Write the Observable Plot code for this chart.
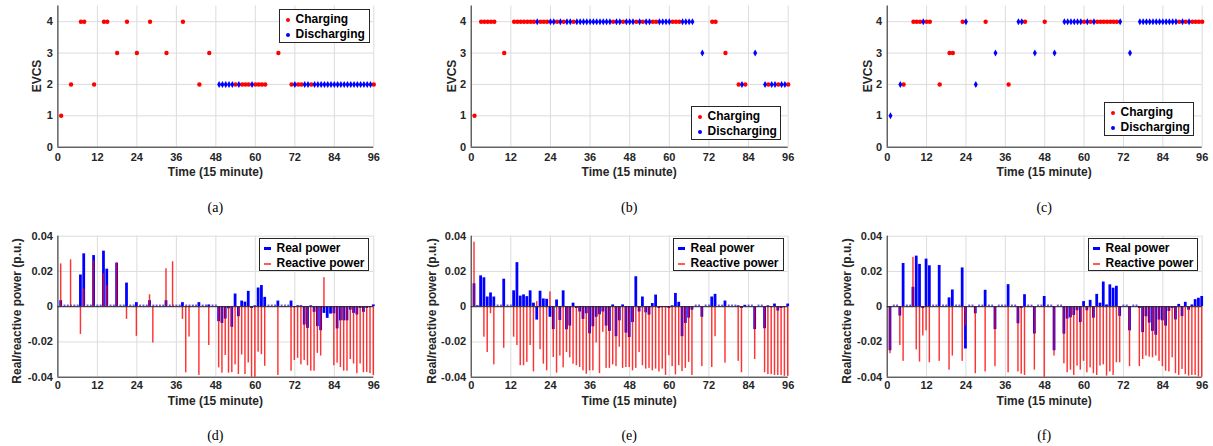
<!DOCTYPE html>
<html><head><meta charset="utf-8">
<script src="https://cdn.jsdelivr.net/npm/d3@7"></script>
<script src="https://cdn.jsdelivr.net/npm/@observablehq/plot@0.6"></script>
<style>
body{margin:0;background:#fff;}
#root{position:relative;width:1213px;height:446px;overflow:hidden;font-family:"Liberation Sans",Arial,Helvetica,sans-serif;}
.pw{position:absolute;}
.lab{position:absolute;font-weight:bold;font-size:12px;color:#262626;white-space:nowrap;line-height:1;}
.ylab{transform:translate(-50%,-50%) rotate(-90deg);}
.xlab{transform:translate(-50%,-50%);}
.cap{position:absolute;font-family:"Liberation Serif","Times New Roman",serif;font-size:14px;color:#000;transform:translate(-50%,-50%);line-height:1;}
.leg{position:absolute;border:1px solid #262626;background:#fff;box-sizing:border-box;font-weight:bold;font-size:12px;color:#000;}
.lt{position:absolute;white-space:nowrap;line-height:12px;height:12px;}
.mk{position:absolute;}
</style></head>
<body><div id="root"></div>
<script>
// ---------- data ----------
const timeTicks = [0,12,24,36,48,60,72,84,96];
const evcsTicks = [0,1,2,3,4];
const powerTicks = [-0.04,-0.02,0,0.02,0.04];

// EVCS index connected at each 15-minute slot (0 = none) and mode (c = charging, d = discharging)
const evcsA = [1,0,0,2,0,0,4,4,0,0, 2,0,0,4,4,0,0,3,0,0, 4,0,0,3,0,0,0,4,0,0, 0,0,3,0,0,0,0,4,0,0,
               0,0,2,0,0,3,0,0,2,2, 2,2,2,2,2,2,2,2,2,2, 2,2,2,0,0,0,3,0,0,0, 2,2,2,2,2,2,2,2,2,2,
               2,2,2,2,2,2,2,2,2,2, 2,2,2,2,2,2];
const modeA = "c--c--cc--" + "c--cc--c--" + "c--c---c--" + "--c----c--" + "--c--c--dd" +
              "dddcdcccdc" + "ccc---c---" + "cdccddcddd" + "dddddddddd" + "dddddc";

const evcsB = [1,0,4,4,4,4,4,0,0,3, 0,0,4,4,4,4,4,4,4,4, 4,4,4,4,4,4,4,4,4,4, 4,4,4,4,4,4,4,4,4,4,
               4,4,4,4,4,4,4,4,4,4, 4,4,4,4,4,4,4,4,4,4, 4,4,4,4,4,4,4,0,0,3, 0,0,4,4,0,0,3,0,0,0,
               2,2,2,0,0,3,0,0,2,2, 2,2,2,2,2,2];
const modeB = "c-ccccc--c" + "--cccccccd" + "cccddcdcdd" + "cddddddddd" + "ddcddcdddc" +
              "dcddccdddd" + "cccdddd--d" + "--cc--c---" + "cdc--d--dc" + "ddcddc";

const evcsC = [1,0,0,2,2,0,0,4,4,4, 4,4,4,0,0,2,0,0,3,3, 0,0,4,4,0,0,2,0,0,4, 0,0,3,0,0,0,2,0,0,4,
               4,4,0,0,3,0,0,4,0,0, 3,0,0,4,4,4,4,4,4,4, 4,4,4,4,4,4,4,4,4,4, 4,0,0,3,0,0,4,4,4,4,
               4,4,4,4,4,4,4,4,4,4, 4,4,4,4,4,4];
const modeC = "d--dc--ccc" + "dcc--c--cc" + "--cd--d--c" + "--d---c--d" + "dc--d--c--" +
              "d--ddddddc" + "dcdccccccc" + "d--d--dddd" + "ddddddddcd" + "cdcccc";

// real / reactive power (p.u.) for slots 1..96
const realD = [0.0034,0,0,0,0,0,0.018,0.030,0,0, 0.029,0,0,0.0315,0.0213,0,0,0.0247,0,0,
               0.0134,0,0,0.0023,0,0,0,0.0034,0,0, 0,0,0.0034,0,0,0,0,0.0023,0,0,
               0,0,0.0023,0,0,0.001,0,0,-0.0085,-0.0095, -0.007,-0.0012,-0.0117,0.0072,-0.0057,0.0032,0.0026,0.0087,-0.001,0.0005,
               0.0106,0.012,0.0053,0,0,0,0.0032,0,0,0, 0.0032,-0.0005,0.0005,0.0005,-0.0104,-0.0123,0.0005,-0.0032,-0.0113,-0.0136,
               -0.0038,-0.0066,-0.0042,-0.004,-0.0126,-0.008,-0.008,-0.008,-0.002,-0.0038, -0.0047,-0.001,-0.0032,-0.001,-0.0005,0.001];
const reactD = [0.0243,0,0,0.0266,0,0,-0.0157,0.010,0,0, 0.026,0,0,0.0187,0.012,0,0,0.0249,0,0,
                -0.0072,0,0,-0.0168,0,0,0,0.0068,-0.0206,0, 0,0,0.0215,0,0.0255,0,0,-0.0072,-0.0375,-0.0172,
                0,0,-0.039,0,0,-0.022,0,0,-0.0347,-0.0377, -0.0277,-0.0377,-0.0374,-0.033,-0.0385,-0.0274,-0.0385,-0.0319,-0.04,-0.04,
                -0.0258,-0.0272,-0.0338,0,0,0,-0.039,0,0,0, -0.0366,-0.0305,-0.0293,-0.033,-0.0305,-0.0335,-0.0366,-0.0366,-0.0265,-0.028,
                0.0165,0,0,-0.0335,-0.032,-0.0345,-0.0366,-0.0366,-0.030,-0.0325, -0.038,-0.0325,-0.0375,-0.0373,-0.038,-0.039];

const realE = [0.013,0.0005,0.0175,0.0164,0.0055,0.0078,0.0055,0,0,0.0156, 0,0,0.009,0.025,0.006,0.0067,0.0057,0.009,0.002,-0.0076,
               0.0088,0.0044,0.0042,-0.006,-0.013,0.0038,-0.0078,0.009,-0.0131,-0.011, 0.002,-0.001,-0.003,-0.0072,-0.004,-0.0154,-0.0114,-0.006,-0.0046,-0.003,
               -0.011,-0.014,0.001,-0.017,-0.008,0.001,-0.015,-0.0175,-0.009,0.017, -0.003,0.0055,-0.0035,-0.0048,0.0018,0.0066,-0.001,-0.0005,-0.0005,-0.001,
               0.0005,0.0075,0.0025,-0.017,-0.0095,-0.0065,-0.002,0,0,-0.006, 0,0,0.0055,0.007,0,0,0.0032,0,0,0,
               0.0005,-0.001,0.0008,0,0,-0.013,0,0,-0.0125,0.0005, -0.0005,0.0015,-0.0025,-0.001,-0.0005,0.0015];
const reactE = [0.0366,0,0,-0.0173,-0.026,-0.004,-0.033,0,0,-0.0236, 0,0,-0.0173,-0.022,-0.0335,-0.0335,-0.0316,-0.022,-0.037,0.0029,
                -0.0244,-0.0326,-0.0364,0.0084,-0.0288,-0.0377,-0.028,-0.0347,-0.026,-0.029, -0.0326,-0.0335,-0.0345,-0.0364,-0.0383,-0.0364,-0.0364,-0.0206,-0.038,-0.0145,
                -0.035,-0.035,-0.033,-0.034,-0.023,-0.035,-0.0345,-0.0345,-0.0364,-0.035, -0.026,-0.0335,-0.0354,-0.035,-0.0364,-0.0354,-0.037,-0.0354,-0.039,-0.0278,
                -0.034,-0.0387,-0.0335,-0.0368,-0.035,-0.0316,-0.039,0,0,-0.034, 0,0,-0.0345,-0.017,0,0,-0.032,0,0,0,
                -0.031,-0.0375,0,0,0,-0.030,0,0,-0.0375,-0.0385, -0.0385,-0.039,-0.039,-0.039,-0.0395,-0.0395];

const realF = [-0.025,0,0,-0.0053,0.0245,0,0,0.011,0.0287,0.024, -0.001,0.027,0.0232,0,0,0.0234,0,0,0.005,0.0095,
               0,0,0.022,-0.024,0,0,-0.004,0,0,0.0093, 0,0,-0.013,0,0,0,0.0125,0,0,-0.0097,
               -0.001,0.0068,0,0,-0.0155,0,0,0.0058,0,0, -0.025,0,0,-0.0156,-0.007,-0.0063,-0.005,-0.0023,-0.009,0.0029,
               -0.0023,0.0036,-0.0065,0.007,0.002,0.014,0.001,0.0124,0.0105,0.0116, -0.0055,0,0,-0.0137,0,0,-0.001,-0.0147,-0.0057,-0.0093,
               -0.014,-0.0162,-0.0076,-0.008,-0.011,-0.0027,-0.001,-0.0075,0.0013,-0.0056, 0.0025,-0.002,0.001,0.004,0.0048,0.0058];
const reactF = [-0.0267,0,0,-0.022,-0.031,0,0,0.028,-0.0245,-0.0314, -0.0166,-0.0137,-0.0318,0,0,-0.031,0,0,-0.036,-0.028,
                0,0,-0.031,-0.011,0,0,-0.038,0,0,-0.037, 0,0,-0.034,0,0,0,-0.0375,0,0,-0.037,
                -0.0383,-0.039,0,0,-0.036,0,0,-0.040,0,0, -0.028,0,0,-0.0324,-0.0375,-0.036,-0.039,-0.0337,-0.036,-0.031,
                -0.0375,-0.0347,-0.038,-0.039,-0.0337,-0.033,-0.0394,-0.037,-0.039,-0.0318, -0.0318,0,0,-0.034,0,0,-0.034,-0.030,-0.028,-0.0286,
                -0.029,-0.028,-0.031,-0.034,-0.0366,-0.037,-0.029,-0.038,-0.039,-0.0356, -0.0385,-0.0394,-0.039,-0.039,-0.0398,-0.040];

const xLabel = "Time (15 minute)";
const yLabelTop = "EVCS";
const yLabelBottom = "Real/reactive power (p.u.)";
const topLegend = ["Charging", "Discharging"];
const bottomLegend = ["Real power", "Reactive power"];
const captions = ["(a)","(b)","(c)","(d)","(e)","(f)"];

// ---------- layout ----------
const cols = [
  {svgLeft:0,   svgW:400, plotL:57.4,  plotR:373.3},
  {svgLeft:400, svgW:405, plotL:470.7, plotR:787.7},
  {svgLeft:805, svgW:408, plotL:886.7, plotR:1201.7}
];
const FONT = '"Liberation Sans", Arial, Helvetica, sans-serif';
const GRID = "#dcdcdc", AX = "#262626";
const root = document.getElementById("root");

function place(el, left, top){
  const w = document.createElement("div");
  w.className = "pw"; w.style.left = left+"px"; w.style.top = top+"px";
  w.appendChild(el); root.appendChild(w);
}
const style = {fontFamily: FONT, fontSize: "11px", fontWeight: "bold", color: AX, background: "transparent", overflow: "visible"};

function topChart(col, evcs, mode){
  const pts = evcs.map((e,i)=>({t:i+1, e, m:mode[i]})).filter(d=>d.e>0 && d.m!=="-");
  const H = 190;
  return Plot.plot({
    width: col.svgW, height: H,
    marginLeft: col.plotL-col.svgLeft, marginRight: col.svgLeft+col.svgW-col.plotR,
    marginTop: 5.5, marginBottom: H-146.7,
    x: {domain:[0,96]}, y: {domain:[0,4.5]},
    style,
    marks: [
      Plot.gridX(timeTicks, {stroke:GRID, strokeOpacity:1}),
      Plot.gridY(evcsTicks, {stroke:GRID, strokeOpacity:1}),
      Plot.ruleX([timeTicks[0]], {stroke:AX}),
      Plot.ruleY([evcsTicks[0]], {stroke:AX}),
      Plot.axisX(timeTicks, {label:null, tickSize:0, tickPadding:6, tickFormat:d=>String(d)}),
      Plot.axisY(evcsTicks, {label:null, tickSize:0, tickPadding:5, tickFormat:d=>String(d)}),
      Plot.dot(pts.filter(d=>d.m==="c"), {x:"t", y:"e", r:2.2, fill:"#ff0000"}),
      Plot.dot(pts.filter(d=>d.m==="d"), {x:"t", y:"e", r:2.1, fill:"#0000ff", symbol:"diamond"})
    ]
  });
}

function bottomChart(col, real, react){
  const bars = real.map((p,i)=>({t:i+1, p, q:react[i]}));
  const H = 185;
  return Plot.plot({
    width: col.svgW, height: H,
    marginLeft: col.plotL-col.svgLeft, marginRight: col.svgLeft+col.svgW-col.plotR,
    marginTop: 235.7-225, marginBottom: H-(376.7-225),
    x: {domain:[0,96]}, y: {domain:[powerTicks[0], powerTicks[powerTicks.length-1]]},
    style,
    marks: [
      Plot.gridX(timeTicks, {stroke:GRID, strokeOpacity:1}),
      Plot.gridY(powerTicks, {stroke:GRID, strokeOpacity:1}),
      Plot.ruleX([timeTicks[0]], {stroke:AX}),
      Plot.ruleY([powerTicks[0]], {stroke:AX}),
      Plot.axisX(timeTicks, {label:null, tickSize:0, tickPadding:4, tickFormat:d=>String(d)}),
      Plot.axisY(powerTicks, {label:null, tickSize:0, tickPadding:5, tickFormat:d=> d===0 ? "0" : d.toFixed(2)}),
      Plot.rectY(bars.filter(d=>d.p!==0), {x1:d=>d.t-0.42, x2:d=>d.t+0.42, y:"p", fill:"#0000ff"}),
      Plot.dot(bars.filter(d=>d.p===0), {x:"t", y:"p", symbol:"square", r:1.1, fill:"#6f55d8", dy:-1.2}),
      Plot.rectY(bars.filter(d=>d.q!==0), {x1:d=>d.t-0.22, x2:d=>d.t+0.22, y:"q", fill:"#ff0000", fillOpacity:0.8}),
      Plot.ruleY([0], {stroke:AX, strokeWidth:1})
    ]
  });
}

const topData = [[evcsA,modeA],[evcsB,modeB],[evcsC,modeC]];
const botData = [[realD,reactD],[realE,reactE],[realF,reactF]];
cols.forEach((c,i)=>{
  place(topChart(c, topData[i][0], topData[i][1]), c.svgLeft, 0);
  place(bottomChart(c, botData[i][0], botData[i][1]), c.svgLeft, 225);
});

function label(text, cls, x, y){
  const d = document.createElement("div");
  d.className = "lab " + cls; d.textContent = text;
  d.style.left = x+"px"; d.style.top = y+"px";
  root.appendChild(d);
}
function caption(text, x, y){
  const d = document.createElement("div");
  d.className = "cap"; d.textContent = text;
  d.style.left = x+"px"; d.style.top = y+"px";
  root.appendChild(d);
}
const topYLabX = [36.7, 451.7, 868.3];
const botYLabX = [16.7, 431.7, 846.7];
cols.forEach((c,i)=>{
  const cx = (c.plotL + c.plotR)/2;
  label(yLabelTop, "ylab", topYLabX[i], 76);
  label(xLabel, "xlab", cx, 172);
  caption(captions[i], cx, 208);
  label(yLabelBottom, "ylab", botYLabX[i], 311);
  label(xLabel, "xlab", cx, 401);
  caption(captions[i+3], cx, 436);
});

// legends
function legend(x, y, w, h, items){
  const box = document.createElement("div");
  box.className = "leg";
  Object.assign(box.style, {left:x+"px", top:y+"px", width:w+"px", height:h+"px"});
  items.forEach((it)=>{
    const mk = document.createElement("div");
    mk.className = "mk";
    const mw = parseFloat(it.mstyle.width), mh = parseFloat(it.mstyle.height);
    Object.assign(mk.style, it.mstyle, {left: (it.mx - mw/2)+"px", top: (it.cy - mh/2)+"px"});
    const t = document.createElement("div");
    t.className = "lt"; t.textContent = it.text;
    t.style.left = it.tx+"px"; t.style.top = (it.cy - 6.5)+"px";
    box.appendChild(mk); box.appendChild(t);
  });
  root.appendChild(box);
}
const dotR = {width:"4px", height:"4px", borderRadius:"50%", background:"#ff0000"};
const dotB = {width:"4px", height:"4px", borderRadius:"50%", background:"#0000ff"};
const lineB = {width:"7px", height:"3px", background:"#0000ff"};
const lineR = {width:"7px", height:"2px", background:"#ff5a5a"};
const topLegPos = [[279,9,91,34],[691,106,90,34],[1104,102,90,34]];
topLegPos.forEach(p=>legend(p[0],p[1],p[2],p[3],[
  {text:topLegend[0], cy:9.5, mx:7.5, tx:15.5, mstyle:dotR},
  {text:topLegend[1], cy:24.5, mx:7.5, tx:15.5, mstyle:dotB}
]));
const botLegPos = [[259,238,110,33],[673,238,111,33],[1088,238,110,33]];
botLegPos.forEach(p=>legend(p[0],p[1],p[2],p[3],[
  {text:bottomLegend[0], cy:9.5, mx:7.5, tx:16.5, mstyle:lineB},
  {text:bottomLegend[1], cy:24.5, mx:7.5, tx:16.5, mstyle:lineR}
]));
</script>
</body></html>
